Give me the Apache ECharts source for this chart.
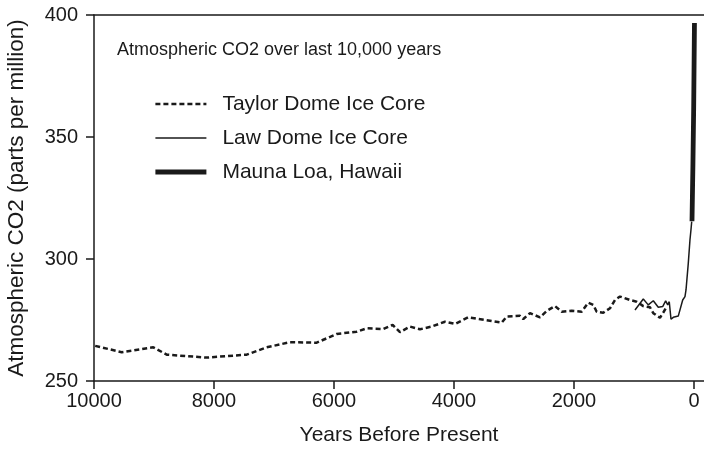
<!DOCTYPE html>
<html><head><meta charset="utf-8">
<script src="https://cdn.jsdelivr.net/npm/echarts@6/dist/echarts.min.js"></script>
<style>html,body{margin:0;padding:0;background:#fff}#c{width:704px;height:449px}</style>
</head><body><div id="c"></div>
<script>
const xTicks = [0, 2000, 4000, 6000, 8000, 10000];
const yTicks = [250, 300, 350, 400];
const seriesNames = ['Taylor Dome Ice Core', 'Law Dome Ice Core', 'Mauna Loa, Hawaii'];
const chartTitle = 'Atmospheric CO2 over last 10,000 years';

const taylorYears = [9980, 9538, 9012, 8788, 8122, 7455, 7122, 6733, 6288, 5955, 5622, 5455, 5178, 5022, 4900, 4733, 4567, 4372, 4150, 3983, 3762, 3400, 3205, 3122, 2900, 2845, 2733, 2567, 2455, 2317, 2205, 2038, 1872, 1762, 1678, 1622, 1512, 1400, 1317, 1233, 1067, 955, 845, 733, 678, 567, 512, 455];
const taylorCO2 = [264.4, 261.8, 263.8, 260.8, 259.6, 260.8, 263.8, 265.9, 265.7, 269.3, 270.2, 271.6, 271.3, 273.0, 270.0, 272.3, 271.2, 272.3, 274.3, 273.4, 276.1, 274.7, 273.9, 276.4, 276.7, 275.4, 277.8, 276.1, 278.7, 280.7, 278.4, 278.8, 278.4, 282.1, 281.2, 278.4, 278.0, 279.8, 283.2, 284.6, 283.2, 282.5, 280.7, 280.2, 277.8, 275.9, 278.0, 280.5];

const lawYears = [983, 845, 762, 678, 595, 522, 472, 438, 412, 383, 345, 262, 233, 188, 150, 133, 95, 67, 50, 38];
const lawCO2 = [279.1, 283.6, 281.2, 282.9, 280.2, 280.5, 282.8, 281.2, 282.5, 275.3, 276.1, 276.6, 277.0, 283.2, 284.6, 287.3, 298.2, 307.8, 312.0, 315.3];

const maunaYears = [33, 18, 5, -8];
const maunaCO2 = [315.5, 338, 362, 396.7];

function pairs(a, b) { return a.map((x, i) => [x, b[i]]); }

const FONT = '"Liberation Sans", Arial, Helvetica, sans-serif';
const INK = '#1a1a1a';
const styles = [
  { color: INK, width: 2.5, type: [5, 3] },
  { color: INK, width: 1.5, type: 'solid' },
  { color: INK, width: 4.8, type: 'solid' }
];
const chart = echarts.init(document.getElementById('c'), null, { renderer: 'canvas' });
chart.setOption({
  animation: false,
  backgroundColor: '#fff',
  textStyle: { fontFamily: FONT, color: INK },
  title: {
    text: chartTitle, left: 117, top: 41, padding: 0,
    textStyle: { fontSize: 18, fontWeight: 'normal', color: INK, fontFamily: FONT }
  },
  legend: {
    orient: 'vertical', left: 153, top: 92, padding: 0,
    itemWidth: 51, itemHeight: 14, itemGap: 10,
    selectedMode: false,
    itemStyle: { color: 'rgba(0,0,0,0)', borderWidth: 0, opacity: 0 },
    textStyle: { fontSize: 21, lineHeight: 24, padding: [0, 0, 0, 11], color: INK, fontFamily: FONT },
    data: seriesNames.map((n, i) => ({ name: n, lineStyle: { width: styles[i].width, type: styles[i].type, color: INK } }))
  },
  grid: { left: 94, right: 0, top: 15, bottom: 68, containLabel: false, outerBoundsMode: 'none' },
  xAxis: [{
    type: 'value', inverse: true, min: -167, max: 10000,
    name: 'Years Before Present', nameLocation: 'middle', nameGap: 44,
    nameTextStyle: { fontSize: 21, color: INK, fontFamily: FONT },
    axisLine: { show: true, onZero: false, lineStyle: { color: INK, width: 1.5 } },
    axisTick: { show: true, inside: false, length: 8, customValues: xTicks, lineStyle: { color: INK, width: 1.5 } },
    axisLabel: { customValues: xTicks, fontSize: 20, margin: 10, color: INK, fontFamily: FONT, formatter: v => String(v) },
    splitLine: { show: false }
  }, {
    type: 'value', position: 'top', inverse: true, min: -167, max: 10000,
    axisLine: { show: true, onZero: false, lineStyle: { color: INK, width: 1.5 } },
    axisTick: { show: false }, axisLabel: { show: false }, splitLine: { show: false }
  }],
  yAxis: {
    type: 'value', min: 250, max: 400, interval: 50,
    name: 'Atmospheric CO2 (parts per million)', nameLocation: 'middle', nameGap: 66,
    nameTextStyle: { fontSize: 22.5, color: INK, fontFamily: FONT },
    axisLine: { show: true, onZero: false, lineStyle: { color: INK, width: 1.5 } },
    axisTick: { show: true, inside: false, length: 8, lineStyle: { color: INK, width: 1.5 } },
    axisLabel: { customValues: yTicks, fontSize: 20, margin: 16, color: INK, fontFamily: FONT, formatter: v => String(v) },
    splitLine: { show: false }
  },
  series: seriesNames.map((n, i) => ({
    name: n, type: 'line', xAxisIndex: 0,
    data: [pairs(taylorYears, taylorCO2), pairs(lawYears, lawCO2), pairs(maunaYears, maunaCO2)][i],
    symbol: 'none', showSymbol: false, z: 2 + i,
    lineStyle: styles[i], itemStyle: { color: INK }
  }))
});
</script>
</body></html>
